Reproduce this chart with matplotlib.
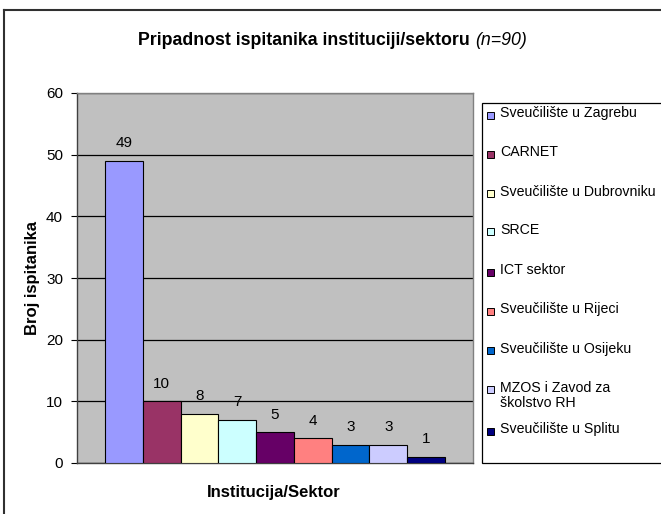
import matplotlib
matplotlib.use("Agg")
import matplotlib.pyplot as plt
from matplotlib.patches import Rectangle
from matplotlib.lines import Line2D

plt.rcParams['font.family'] = ['Liberation Sans', 'DejaVu Sans']

# data
labels = ["Sveučilište u Zagrebu", "CARNET", "Sveučilište u Dubrovniku", "SRCE",
          "ICT sektor", "Sveučilište u Rijeci", "Sveučilište u Osijeku",
          "MZOS i Zavod za\nškolstvo RH", "Sveučilište u Splitu"]
counts = [49, 10, 8, 7, 5, 4, 3, 3, 1]
colors = ["#9999FF", "#993366", "#FFFFCC", "#CCFFFF", "#660066",
          "#FF8080", "#0066CC", "#CCCCFF", "#000080"]
yticks = [0, 10, 20, 30, 40, 50, 60]

W, H = 661, 514
fig = plt.figure(figsize=(W / 100, H / 100), dpi=100)

def fx(px):
    return px / W

def fy(py):
    return 1 - py / H

ax = fig.add_axes([fx(77), fy(463), fx(473) - fx(77), fy(93) - fy(463)])
ax.set_facecolor("#C0C0C0")

xpos = list(range(len(counts)))
ax.bar(xpos, counts, width=1.0, color=colors, edgecolor="black", linewidth=0.8, zorder=3)
for x, v in zip(xpos, counts):
    ax.annotate(str(v), (x, v), xytext=(0, 12.5), textcoords="offset points",
                ha="center", va="center", fontsize=11)

ax.set_xlim(-1.24, 9.24)
ax.set_ylim(0, 60)
ax.set_yticks(yticks)
ax.set_xticks([])
ax.yaxis.grid(True, color="black", linewidth=0.9, zorder=1)
ax.set_axisbelow(True)
ax.tick_params(axis="y", direction="out", length=4, width=0.8, labelsize=11, pad=6)

for s in ["top", "right"]:
    ax.spines[s].set_color("#808080")
    ax.spines[s].set_linewidth(1.0)
for s in ["left", "bottom"]:
    ax.spines[s].set_color("#404040")
    ax.spines[s].set_linewidth(1.0)

fig.text(fx(32), fy(278), "Broj ispitanika", fontsize=12, fontweight="bold",
         rotation=90, ha="center", va="center")
fig.text(fx(274), fy(493), "Institucija/Sektor", fontsize=12, fontweight="bold",
         ha="center", va="center")

# title: bold part + italic part
t1 = fig.text(fx(138), fy(41), "Pripadnost ispitanika instituciji/sektoru",
              fontsize=12.8, fontweight="bold", ha="left", va="center")
fig.canvas.draw()
bb = t1.get_window_extent()
fig.text(bb.x1 / W + fx(5), fy(41), "(n=90)", fontsize=12.8, style="italic",
         ha="left", va="center")

# outer chart border
fig.add_artist(Line2D([fx(4), fx(4)], [0, fy(10)], color="#303030", linewidth=1.5))
fig.add_artist(Line2D([fx(4), 1.0], [fy(10), fy(10)], color="#303030", linewidth=1.5))

# legend box
fig.add_artist(Rectangle((fx(482), fy(463)), 0.5, fy(103) - fy(463),
                         facecolor="white", edgecolor="black", linewidth=0.9,
                         transform=fig.transFigure, clip_on=False))
legend_y = [115, 154, 193, 232, 272, 311, 350, 389, 431]
for lab, col, py in zip(labels, colors, legend_y):
    fig.add_artist(Rectangle((fx(487), fy(py + 3.5)), fx(7), 7 / H,
                             facecolor=col, edgecolor="black", linewidth=0.7,
                             transform=fig.transFigure))
    fig.text(fx(500), fy(py - 8.5), lab, fontsize=10.2, ha="left", va="top",
             linespacing=1.15)

fig.savefig("out.png", dpi=100)
